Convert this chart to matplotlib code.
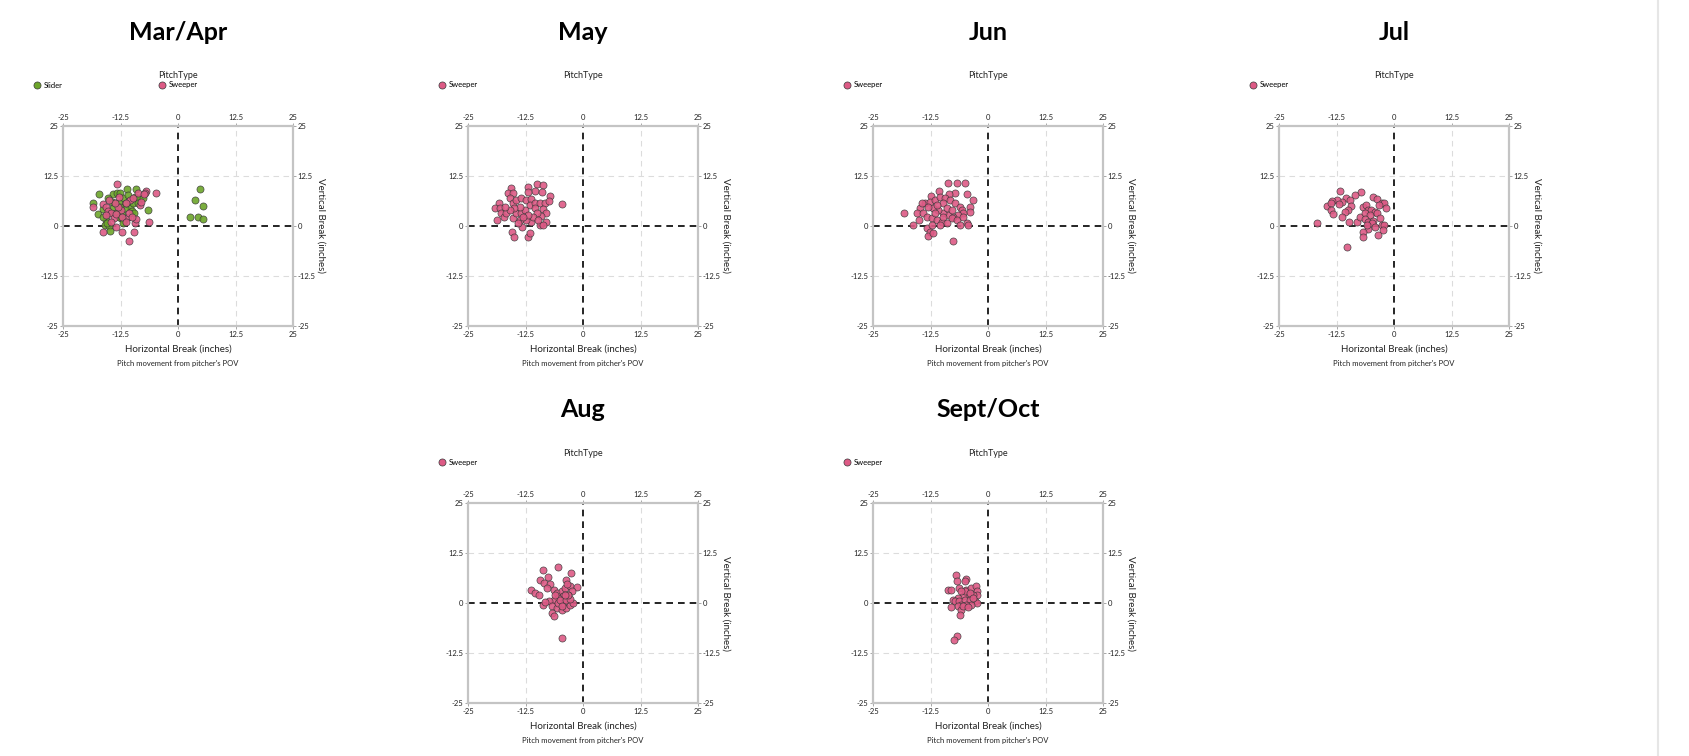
import matplotlib
matplotlib.use('Agg')
import matplotlib.pyplot as plt
from matplotlib.lines import Line2D
import numpy as np

plt.rcParams['font.family'] = ['Lato', 'DejaVu Sans']

# ---------------- data (horizontal / vertical break, inches) ----------------
months = ['Mar/Apr', 'May', 'Jun', 'Jul', 'Aug', 'Sept/Oct']

marapr_slider_x = [4.7, 3.8, 5.5, 2.5, 4.3, 5.4, -17.2, -18.4, -17.4, -16.2, -15.7, -15.9, -14.9, -14.7,
                   -14.1, -13.3, -12.7, -11.0, -9.1, -12.0, -14.4, -13.7, -12.9, -14.1, -15.0, -13.4,
                   -12.2, -12.5, -11.7, -12.0, -10.4, -9.8, -9.4, -8.5, -7.6, -8.6, -6.5, -9.9, -9.6,
                   -10.9, -15.2, -16.3, -15.4, -12.9, -11.6, -11.2, -12.7]
marapr_slider_y = [9.25, 6.5, 5.1, 2.3, 2.2, 1.75, 7.9, 5.8, 3.1, 4.2, 1.5, 0.25, 0.1, -1.25,
                   7.9, 8.3, 8.2, 9.2, 9.3, 6.9, 6.1, 5.7, 5.7, 4.4, 3.2, 3.2,
                   3.0, 1.9, 1.5, 0.7, 4.8, 5.8, 7.3, 6.9, 6.9, 5.8, 4.0, 3.8, 3.2,
                   7.75, 7.1, 2.3, 0.7, 2.2, 4.4, 5.8, 4.8]
marapr_sweeper_x = [-13.2, -4.7, -6.9, -7.2, -6.4, -18.4, -16.3, -15.6, -15.2, -14.5, -14.0, -14.5, -16.2,
                    -13.4, -12.1, -9.6, -10.6, -9.4, -9.1, -10.9, -10.5, -9.8, -8.7, -8.3, -8.0, -12.3,
                    -13.0, -13.8, -14.9, -11.4, -10.7, -9.9, -13.4, -12.1, -11.2, -7.5, -12.9, -15.6]
marapr_sweeper_y = [10.5, 8.3, 8.8, 8.2, 1.1, 4.8, 5.6, 4.8, 3.8, 3.2, 1.9, 1.1, -1.6,
                    -0.2, -1.5, -1.6, -3.7, 0.7, 1.7, 2.3, 6.5, 6.9, 8.3, 5.25, 6.1, 4.0,
                    4.8, 5.7, 6.5, 5.7, 3.2, 2.2, 3.0, 2.3, 1.1, 7.9, 7.2, 2.75]

may_sweeper_x = [-15.7, -12.0, -10.0, -8.8, -10.4, -9.0, -7.2, -12.0, -16.3, -15.3, -15.9, -18.3, -19.2,
                 -18.1, -17.8, -18.8, -17.2, -16.7, -15.2, -14.5, -13.4, -12.3, -11.2, -11.6, -10.5,
                 -9.4, -8.3, -7.5, -4.6, -8.7, -8.0, -9.1, -8.0, -9.4, -11.2, -12.3, -13.8, -15.2,
                 -14.5, -13.4, -12.7, -13.8, -14.9, -15.9, -13.2, -15.5, -14.9, -12.0, -11.6, -10.5,
                 -10.1, -10.9, -12.0, -14.1, -17.0, -13.0, -9.8, -8.7]
may_sweeper_y = [9.6, 9.7, 10.5, 10.2, 8.8, 8.6, 7.6, 8.6, 8.2, 8.2, 6.9, 5.7, 4.6,
                 4.6, 3.3, 1.5, 2.2, 3.2, 5.7, 6.5, 6.9, 6.5, 6.7, 5.25, 5.7,
                 5.7, 5.8, 6.2, 5.4, 4.2, 3.2, 2.5, 1.1, 0.25, 1.1, 1.5, 1.5, 1.9,
                 3.2, 3.2, 4.0, 4.8, 4.4, 4.0, -0.2, -1.6, -2.7, -2.7, -1.7, 4.4,
                 3.2, 2.3, 2.75, 0.7, 4.8, 2.3, 1.5, 0.25]

jun_sweeper_x = [-18.2, -16.4, -8.6, -6.8, -4.9, -3.2, -4.5, -7.2, -8.4, -10.7, -12.4, -14.8, -15.5,
                 -14.9, -13.7, -12.6, -11.5, -10.4, -9.3, -8.3, -7.2, -6.1, -5.7, -3.9, -3.9, -5.4,
                 -6.5, -7.6, -8.6, -9.7, -10.8, -11.9, -13.0, -14.1, -13.3, -12.2, -11.1, -10.1,
                 -9.0, -7.9, -6.8, -6.1, -4.6, -4.3, -5.4, -13.3, -12.6, -13.0, -12.0, -7.6,
                 -12.2, -10.4, -9.7, -11.1, -9.0, -7.9, -14.4, -9.7, -11.5]
jun_sweeper_y = [3.2, 0.25, 10.7, 10.7, 10.8, 6.5, 7.9, 8.2, 7.9, 8.75, 7.6, 4.4, 3.2,
                 1.5, 5.7, 6.1, 6.5, 7.3, 6.9, 6.5, 5.7, 4.8, 4.0, 4.8, 3.6, 3.2,
                 2.75, 2.3, 2.75, 3.2, 4.0, 4.4, 4.8, 3.2, 2.3, 1.9, 1.5, 1.1,
                 0.7, 1.9, 1.5, 0.25, 0.7, 0.25, 2.3, -0.6, -1.4, -2.5, -1.7, -3.7,
                 0.25, 0.25, 5.7, 5.25, 4.4, 4.0, 5.7, 2.3, 3.2]

jul_sweeper_x = [-16.8, -11.8, -7.1, -8.5, -10.5, -9.5, -11.4, -12.3, -13.4, -14.6, -13.6, -11.9, -9.3,
                 -10.0, -10.7, -13.8, -13.3, -11.4, -9.8, -8.0, -7.4, -6.7, -6.0, -4.5, -3.8, -2.7,
                 -2.1, -1.7, -3.3, -5.6, -4.9, -4.2, -6.3, -5.2, -3.8, -6.4, -5.6, -4.5, -3.1, -2.7,
                 -2.1, -2.4, -3.5, -5.6, -6.7, -6.7, -10.2, -4.7, -5.9, -4.2]
jul_sweeper_y = [0.7, 8.75, 8.4, 7.8, 6.9, 6.5, 6.1, 6.5, 6.3, 5.1, 5.7, 5.5, 5.1,
                 4.0, 3.6, 4.0, 3.0, 2.3, 1.1, 1.1, 2.3, 4.8, 5.25, 7.2, 6.7, 5.7,
                 5.8, 4.6, 5.25, 4.0, 4.0, 3.6, 3.2, 2.75, 3.2, 1.7, 1.1, 1.3, 1.9, 0.25,
                 0.2, -1.0, -2.25, -0.8, -1.4, -2.8, -5.3, 0.7, 0.25, -0.2]

aug_sweeper_x = [-8.8, -5.4, -2.6, -3.8, -7.7, -9.3, -8.5, -7.2, -11.3, -10.4, -9.5, -7.9, -6.4,
                 -5.7, -4.6, -3.9, -2.8, -1.4, -2.5, -3.2, -4.3, -5.4, -6.4, -7.5, -8.6, -8.3,
                 -6.8, -5.7, -4.6, -3.6, -2.8, -2.1, -4.3, -5.4, -5.0, -3.6, -2.9, -6.8, -6.2,
                 -4.6, -3.2, -6.1, -3.9, -3.4, -4.6]
aug_sweeper_y = [8.3, 8.9, 7.6, 5.7, 6.4, 5.7, 5.0, 4.75, 3.3, 2.5, 2.1, 3.75, 3.3,
                 2.5, 2.9, 3.75, 4.2, 3.9, 2.9, 2.1, 1.7, 1.25, 0.8, 0.4, -0.4, 0.25,
                 -0.8, -1.25, -1.7, -1.25, -0.4, 0.0, 0.0, 0.0, 0.8, 0.8, 1.1, -2.5, -3.2,
                 -8.75, 2.1, 2.1, 2.1, 4.8, -0.8]

sepoct_sweeper_x = [-6.9, -6.7, -4.7, -5.1, -8.8, -8.1, -6.2, -4.7, -3.6, -2.7, -2.5, -2.3, -3.3,
                    -4.3, -5.4, -6.5, -7.6, -7.2, -6.2, -5.1, -4.0, -2.9, -2.5, -3.6, -4.7, -5.8,
                    -6.5, -5.8, -5.4, -4.3, -8.1, -6.0, -6.7, -7.5, -5.1, -4.0, -3.3, -5.8]
sepoct_sweeper_y = [7.1, 5.4, 6.0, 5.4, 3.3, 3.2, 3.75, 3.3, 3.75, 4.2, 2.9, 2.1, 2.1,
                    2.1, 1.7, 1.25, 0.8, 0.4, 0.4, 0.8, 0.8, 0.4, 0.0, -0.4, -0.4, -0.4,
                    -0.8, -1.7, -0.8, -1.1, -1.0, -2.9, -8.3, -9.25, 2.9, 2.5, 1.25, 2.9]

panel_data = {
    'Mar/Apr': [('Slider', marapr_slider_x, marapr_slider_y),
                ('Sweeper', marapr_sweeper_x, marapr_sweeper_y)],
    'May': [('Sweeper', may_sweeper_x, may_sweeper_y)],
    'Jun': [('Sweeper', jun_sweeper_x, jun_sweeper_y)],
    'Jul': [('Sweeper', jul_sweeper_x, jul_sweeper_y)],
    'Aug': [('Sweeper', aug_sweeper_x, aug_sweeper_y)],
    'Sept/Oct': [('Sweeper', sepoct_sweeper_x, sepoct_sweeper_y)],
}

ticks = [-25, -12.5, 0, 12.5, 25]
tick_labels = ['-25', '-12.5', '0', '12.5', '25']
colors = {'Slider': '#6da52a', 'Sweeper': '#dd5a85'}

W, H = 1689, 756
# pixel boxes of each panel (left, top)
boxes = {'Mar/Apr': (63, 126), 'May': (468, 126), 'Jun': (873, 126), 'Jul': (1279, 126),
         'Aug': (468, 503), 'Sept/Oct': (873, 503)}
AW, AH = 230, 200


def draw_panel(fig, month):
    left, top = boxes[month]
    ax = fig.add_axes([left / W, 1 - (top + AH) / H, AW / W, AH / H])
    ax.set_xlim(-25, 25)
    ax.set_ylim(-25, 25)

    # grid and zero lines
    for v in [-12.5, 12.5]:
        ax.axvline(v, color='#dcdcdc', lw=0.8, ls=(0, (5, 4)), zorder=0)
        ax.axhline(v, color='#dcdcdc', lw=0.8, ls=(0, (5, 4)), zorder=0)
    ax.axvline(0, color='black', lw=1.2, ls=(0, (4, 3)), zorder=1)
    ax.axhline(0, color='black', lw=1.2, ls=(0, (4, 3)), zorder=1)

    handles = []
    for name, xs, ys in panel_data[month]:
        h = ax.scatter(xs, ys, s=26, color=colors[name], edgecolors='#3a3a3a',
                       linewidths=0.5, alpha=0.9, zorder=3, label=name)
        handles.append(h)

    for sp in ax.spines.values():
        sp.set_color('#c4c4c4')
        sp.set_linewidth(1.6)

    ax.set_xticks(ticks)
    ax.set_xticklabels(tick_labels)
    ax.set_yticks(ticks)
    ax.set_yticklabels(tick_labels)
    ax.tick_params(axis='both', which='both', top=True, labeltop=True, right=True, labelright=True,
                   length=2, width=0.6, color='#999999', labelsize=5.5, pad=1.5, labelcolor='#222222')

    ax.set_xlabel('Horizontal Break (inches)', fontsize=7, color='#222222', labelpad=5)
    ax.yaxis.set_label_position('right')
    ax.set_ylabel('Vertical Break (inches)', fontsize=7, color='#222222', rotation=270, labelpad=7)

    cx = (left + AW / 2) / W
    fig.text(cx, 1 - (top - 94) / H, month, ha='center', va='center', fontsize=18, fontweight='bold')
    fig.text(cx, 1 - (top - 50) / H, 'PitchType', ha='center', va='center', fontsize=6.5,
             color='#222222')
    fig.text(cx, 1 - (top + AH + 38) / H, "Pitch movement from pitcher's POV", ha='center',
             va='center', fontsize=5.5, color='#222222')

    leg = ax.legend(handles=handles, loc='center left', bbox_to_anchor=(-30 / AW, 1 + 41 / AH),
                    ncol=2, frameon=False, fontsize=5.5, handletextpad=0.4, handlelength=1.0,
                    columnspacing=12.5, borderpad=0, borderaxespad=0)
    for lh in leg.legend_handles:
        lh.set_alpha(1)
    return ax


def main():
    fig = plt.figure(figsize=(W / 100, H / 100), dpi=100)
    for m in months:
        draw_panel(fig, m)
    # page edge on the right
    fig.add_artist(Line2D([1658 / W, 1658 / W], [0, 1], transform=fig.transFigure,
                          color='#e6e6e6', lw=1.5))
    fig.savefig('out.png', dpi=100)


main()
